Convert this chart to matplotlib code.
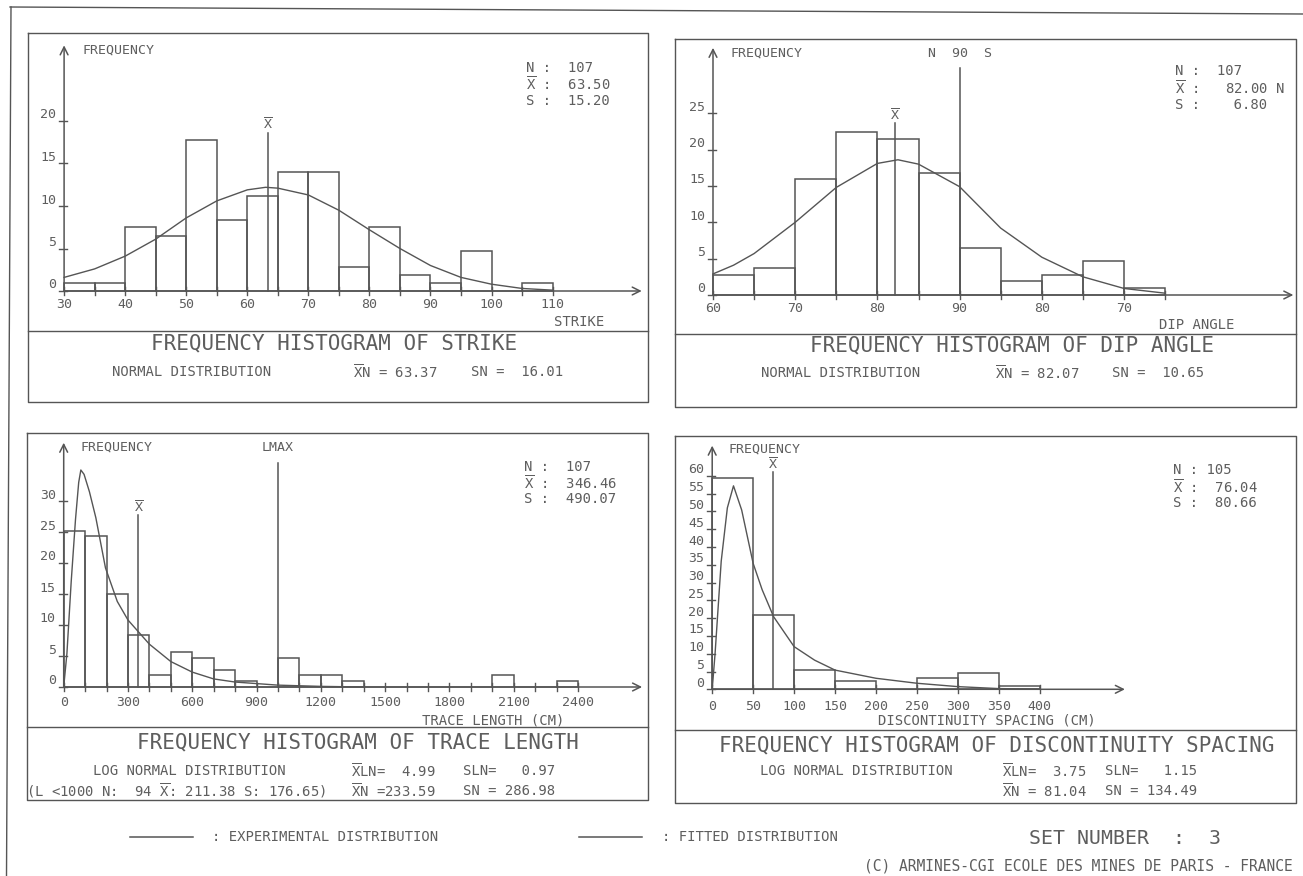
import matplotlib
matplotlib.use('Agg')
import matplotlib.pyplot as plt

# =============================================================================
# Data (frequencies in %)
# =============================================================================
strike_left = [30, 35, 40, 45, 50, 55, 60, 65, 70, 75, 80, 85, 90, 95, 100, 105]
strike_freq = [0.9, 0.9, 7.5, 6.5, 17.8, 8.4, 11.2, 14.0, 14.0, 2.8, 7.5, 1.9, 0.9, 4.7, 0.0, 0.9]
strike_fit_x = [30, 35, 40, 45, 50, 55, 60, 63, 65, 70, 75, 80, 85, 90, 95, 100, 105, 110]
strike_fit_y = [1.6, 2.6, 4.1, 6.1, 8.6, 10.6, 11.9, 12.2, 12.1, 11.3, 9.5, 7.2, 5.0, 3.0, 1.6, 0.8, 0.3, 0.1]
strike_ticks = [30, 40, 50, 60, 70, 80, 90, 100, 110]
strike_mean = 63.4

dip_left = [60, 65, 70, 75, 80, 85, 90, 95, 100, 105, 110]
dip_freq = [2.8, 3.7, 15.9, 22.4, 21.5, 16.8, 6.5, 1.9, 2.8, 4.7, 0.9]
dip_fit_x = [60, 62.5, 65, 70, 75, 80, 82.5, 85, 90, 95, 100, 105, 110, 115]
dip_fit_y = [2.9, 4.1, 5.7, 10.0, 14.8, 18.1, 18.6, 18.0, 14.9, 9.2, 5.2, 2.5, 0.9, 0.25]
dip_ticks = [60, 70, 80, 90, 100, 110]
dip_labels = ['60', '70', '80', '90', '80', '70']
dip_mean = 82.2

trace_left = [0, 100, 200, 300, 400, 500, 600, 700, 800, 900, 1000, 1100,
              1200, 1300, 1400, 1500, 1600, 1700, 1800, 1900, 2000, 2100, 2200, 2300]
trace_freq = [25.2, 24.3, 15.0, 8.4, 1.9, 5.6, 4.7, 2.8, 0.9, 0.0, 4.7, 1.9,
              1.9, 0.9, 0.0, 0.0, 0.0, 0.0, 0.0, 0.0, 1.9, 0.0, 0.0, 0.9]
trace_fit_x = [0, 15, 35, 55, 70, 80, 95, 120, 150, 195, 250, 300, 400, 500, 600, 700, 800, 1000, 1200, 1400]
trace_fit_y = [0, 5.4, 17, 27, 33, 35, 34.3, 31.5, 27.3, 19.2, 13.8, 10.8, 6.9, 4.1, 2.4, 1.3, 0.8, 0.3, 0.1, 0]
trace_ticks = [0, 300, 600, 900, 1200, 1500, 1800, 2100, 2400]
trace_mean = 349
trace_lmax = 1000

spacing_left = [0, 50, 100, 150, 200, 250, 300, 350]
spacing_freq = [59.5, 20.8, 5.4, 2.3, 0.0, 3.3, 4.5, 1.0]
spacing_fit_x = [0, 3.5, 11, 18.5, 26, 36, 50, 61, 75, 100, 125, 150, 200, 250, 300, 350, 400]
spacing_fit_y = [0, 10, 36, 51, 57.2, 50.4, 35.4, 28, 20.4, 12, 8.2, 5.4, 3.1, 1.7, 0.75, 0.2, 0.05]
spacing_ticks = [0, 50, 100, 150, 200, 250, 300, 350, 400]
spacing_mean = 74.3

# =============================================================================
# Figure set up (pixel based overlay)
# =============================================================================
W, H = 1303, 876
LINE = '#555555'
TEXT = '#5e5e5e'
plt.rcParams['font.family'] = ['DejaVu Sans Mono', 'DejaVu Sans']
plt.rcParams['mathtext.fontset'] = 'custom'
plt.rcParams['mathtext.rm'] = 'DejaVu Sans Mono'
XB = r'$\overline{\mathrm{X}}$'

fig = plt.figure(figsize=(W / 100, H / 100), dpi=100)
ov = fig.add_axes([0, 0, 1, 1])
ov.set_xlim(0, W)
ov.set_ylim(H, 0)
ov.axis('off')


def txt(x, y, s, size=10, ha='left'):
    ov.text(x, y, s, fontsize=size, ha=ha, va='center', color=TEXT)


def frame(l, t, r, b, mid):
    ov.plot([l, r, r, l, l], [t, t, b, b, t], color=LINE, lw=1.0)
    ov.plot([l, r], [mid, mid], color=LINE, lw=1.0)


def chart(l, t, r, b, x0, u0, sx, y0, sy):
    ax = fig.add_axes([l / W, 1 - b / H, (r - l) / W, (b - t) / H])
    ax.set_xlim(u0 - (x0 - l) / sx, u0 + (r - x0) / sx)
    ax.set_ylim(-(b - y0) / sy, (y0 - t) / sy)
    ax.axis('off')
    return ax


def hist(ax, sx, sy, left, width, freq, fit_x, fit_y, u0, u_end, v_top,
         ticks, labels, marks, yticks, lab_dy):
    ax.bar(left, freq, width=width, align='edge', fill=False, edgecolor=LINE, lw=1.1)
    ax.plot(fit_x, fit_y, color=LINE, lw=1.0)
    arrow = dict(arrowstyle='->', color=LINE, lw=1.1, shrinkA=0, shrinkB=0, mutation_scale=14)
    ax.annotate('', xy=(u_end, 0), xytext=(u0, 0), arrowprops=arrow)
    ax.annotate('', xy=(u0, v_top), xytext=(u0, 0), arrowprops=arrow)
    for m in marks:
        ax.plot([m, m], [-4 / sy, 4 / sy], color=LINE, lw=1.0)
    for v in yticks:
        ax.plot([u0 - 5 / sx, u0 + 3 / sx], [v, v], color=LINE, lw=1.0)
        ax.annotate(str(v), (u0, v), xytext=(-8, 6), textcoords='offset pixels',
                    ha='right', va='center', fontsize=9.5, color=TEXT)
    for u, s in zip(ticks, labels):
        ax.annotate(s, (u, 0), xytext=(0, -lab_dy), textcoords='offset pixels',
                    ha='center', va='center', fontsize=9.5, color=TEXT)


def vline(ax, u, top, label, dy=8):
    ax.plot([u, u], [0, top], color=LINE, lw=1.1)
    if label:
        ax.annotate(label, (u, top), xytext=(0, dy), textcoords='offset pixels',
                    ha='center', va='center', fontsize=9.5, color=TEXT)


# outer sheet border (scan is slightly skewed)
ov.plot([10, W], [7, 14], color=LINE, lw=1.0)
ov.plot([11, 6.5], [7, H], color=LINE, lw=1.0)

# =============================================================================
# Top left : strike
# =============================================================================
frame(28, 33, 648, 402, 331)
ax1 = chart(28, 33, 648, 331, 64.1, 30, 6.106, 291, 8.5)
hist(ax1, 6.106, 8.5, strike_left, 5, strike_freq, strike_fit_x, strike_fit_y,
     30, 124.6, 28.9, strike_ticks, [str(t) for t in strike_ticks],
     list(range(30, 115, 5)), [0, 5, 10, 15, 20], 14)
vline(ax1, strike_mean, 18.6, XB)
txt(83, 50, 'FREQUENCY', 9.5)
txt(526, 68, 'N :  107')
txt(526, 84, XB + ' :  63.50')
txt(526, 101, 'S :  15.20')
txt(579, 322, 'STRIKE', ha='center')
txt(334, 343, 'FREQUENCY HISTOGRAM OF STRIKE', 15, ha='center')
txt(112, 372, 'NORMAL DISTRIBUTION')
txt(353, 372, XB + 'N = 63.37')
txt(471, 372, 'SN =  16.01')

# =============================================================================
# Top right : dip angle
# =============================================================================
frame(675, 39, 1296, 407, 334)
ax2 = chart(675, 39, 1296, 334, 713, 60, 8.22, 295, 7.27)
hist(ax2, 8.22, 7.27, dip_left, 5, dip_freq, dip_fit_x, dip_fit_y,
     60, 130.6, 34, dip_ticks, dip_labels,
     list(range(60, 120, 5)), [0, 5, 10, 15, 20, 25], 13)
vline(ax2, dip_mean, 23.6, XB)
vline(ax2, 90, 31.2, 'N  90  S', dy=15)
txt(731, 53, 'FREQUENCY', 9.5)
txt(1175, 71, 'N :  107')
txt(1175, 88, XB + ' :   82.00 N')
txt(1175, 105, 'S :    6.80')
txt(1197, 325, 'DIP ANGLE', ha='center')
txt(1012, 345, 'FREQUENCY HISTOGRAM OF DIP ANGLE', 15, ha='center')
txt(761, 373, 'NORMAL DISTRIBUTION')
txt(995, 373, XB + 'N = 82.07')
txt(1112, 373, 'SN =  10.65')

# =============================================================================
# Bottom left : trace length
# =============================================================================
frame(27, 433, 648, 800, 727)
ax3 = chart(27, 433, 648, 727, 63.7, 0, 0.2143, 687, 6.2)
hist(ax3, 0.2143, 6.2, trace_left, 100, trace_freq, trace_fit_x, trace_fit_y,
     0, 2699, 39.4, trace_ticks, [str(t) for t in trace_ticks],
     list(range(0, 2500, 100)), [0, 5, 10, 15, 20, 25, 30], 16)
vline(ax3, trace_mean, 27.7, XB)
vline(ax3, trace_lmax, 36.1, 'LMAX', dy=16)
txt(81, 447, 'FREQUENCY', 9.5)
txt(524, 467, 'N :  107')
txt(524, 483, XB + ' :  346.46')
txt(524, 499, 'S :  490.07')
txt(493, 720, 'TRACE LENGTH (CM)', ha='center')
txt(358, 742, 'FREQUENCY HISTOGRAM OF TRACE LENGTH', 15, ha='center')
txt(93, 771, 'LOG NORMAL DISTRIBUTION')
txt(351, 771, XB + 'LN=  4.99')
txt(463, 771, 'SLN=   0.97')
txt(26, 791, '(L <1000 N:  94 ' + XB + ': 211.38 S: 176.65)')
txt(351, 791, XB + 'N =233.59')
txt(463, 791, 'SN = 286.98')

# =============================================================================
# Bottom right : discontinuity spacing
# =============================================================================
frame(675, 436, 1296, 803, 730)
ax4 = chart(675, 436, 1296, 730, 712.2, 0, 0.8188, 689.3, 3.557)
hist(ax4, 0.8188, 3.557, spacing_left, 50, spacing_freq, spacing_fit_x, spacing_fit_y,
     0, 504, 68.5, spacing_ticks, [str(t) for t in spacing_ticks],
     list(range(0, 450, 50)), list(range(0, 65, 5)), 17)
vline(ax4, spacing_mean, 61, XB, dy=8)
txt(729, 449, 'FREQUENCY', 9.5)
txt(1173, 470, 'N : 105')
txt(1173, 487, XB + ' :  76.04')
txt(1173, 503, 'S :  80.66')
txt(987, 720, 'DISCONTINUITY SPACING (CM)', ha='center')
txt(997, 745, 'FREQUENCY HISTOGRAM OF DISCONTINUITY SPACING', 15, ha='center')
txt(760, 771, 'LOG NORMAL DISTRIBUTION')
txt(1002, 771, XB + 'LN=  3.75')
txt(1105, 771, 'SLN=   1.15')
txt(1002, 791, XB + 'N = 81.04')
txt(1105, 791, 'SN = 134.49')

# =============================================================================
# Legend and footer
# =============================================================================
ov.plot([130, 193], [837, 837], color=LINE, lw=1.1)
txt(212, 837, ': EXPERIMENTAL DISTRIBUTION')
ov.plot([579, 642], [837, 837], color=LINE, lw=1.1)
txt(662, 837, ': FITTED DISTRIBUTION')
txt(1029, 838, 'SET NUMBER  :  3', 14.3)
txt(864, 866, '(C) ARMINES-CGI ECOLE DES MINES DE PARIS - FRANCE', 10.5)

fig.savefig('out.png', dpi=100)
